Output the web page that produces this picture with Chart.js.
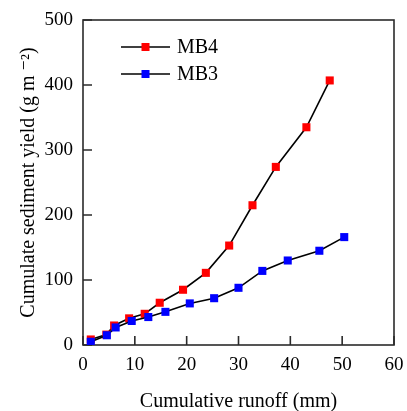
<!DOCTYPE html>
<html>
<head>
<meta charset="utf-8">
<script src="https://cdn.jsdelivr.net/npm/chart.js@4"></script>
<style>
  html, body { margin: 0; padding: 0; background: #fff; }
  #wrap { width: 407px; height: 411px; }
</style>
</head>
<body>
<div id="wrap"><canvas id="runoffChart"></canvas></div>
<script>
const mb4Runoff = [1.5, 4.5, 6, 8.9, 11.9, 14.8, 19.3, 23.7, 28.2, 32.7, 37.2, 43.1, 47.6];
const mb4Yield = [8.5, 16, 30, 41, 48, 65, 85, 111, 153, 215, 274, 335, 407];

const mb3Runoff = [1.5, 4.6, 6.3, 9.4, 12.6, 15.9, 20.6, 25.3, 30, 34.6, 39.5, 45.6, 50.4];
const mb3Yield = [5, 15, 27, 37, 43, 51, 64, 72, 88, 114, 130, 145, 166];

const xTicks = [0, 10, 20, 30, 40, 50, 60];
const yTicks = [0, 100, 200, 300, 400, 500];

const serif = "'Liberation Serif', 'DejaVu Serif', serif";

function toPoints(xs, ys) {
  return xs.map((x, i) => ({ x: x, y: ys[i] }));
}

// box round the plot and inward tick marks
const frame = {
  id: "frame",
  beforeDatasetsDraw(chart) {
    const { ctx, chartArea: a, scales } = chart;
    ctx.save();
    ctx.strokeStyle = "#2b2b2b";
    ctx.lineWidth = 1.6;
    ctx.strokeRect(a.left, a.top, a.right - a.left, a.bottom - a.top);
    ctx.beginPath();
    xTicks.forEach((v) => {
      const px = scales.x.getPixelForValue(v);
      ctx.moveTo(px, a.bottom);
      ctx.lineTo(px, a.bottom - 9);
    });
    yTicks.forEach((v) => {
      const py = scales.y.getPixelForValue(v);
      ctx.moveTo(a.left, py);
      ctx.lineTo(a.left + 9, py);
    });
    ctx.stroke();
    ctx.restore();
  },
};

// legend inside the plot: line with marker, then label
const insideLegend = {
  id: "insideLegend",
  afterDraw(chart) {
    const { ctx } = chart;
    ctx.save();
    chart.data.datasets.forEach((ds, i) => {
      const y = 47 + i * 27;
      ctx.strokeStyle = "#000";
      ctx.lineWidth = 1.6;
      ctx.beginPath();
      ctx.moveTo(121, y);
      ctx.lineTo(170, y);
      ctx.stroke();
      ctx.fillStyle = ds.pointBackgroundColor;
      ctx.fillRect(141.5, y - 4, 8, 8);
      ctx.fillStyle = "#000";
      ctx.font = "20px " + serif;
      ctx.textBaseline = "middle";
      ctx.fillText(ds.label, 177, y + 1);
    });
    ctx.restore();
  },
};

new Chart(document.getElementById("runoffChart"), {
  type: "scatter",
  data: {
    datasets: [
      {
        label: "MB4",
        data: toPoints(mb4Runoff, mb4Yield),
        showLine: true,
        borderColor: "#000",
        borderWidth: 1.6,
        pointStyle: "rect",
        pointRadius: 5.7,
        pointBackgroundColor: "#ff0000",
        pointBorderColor: "#ff0000",
        pointBorderWidth: 0,
        order: 2,
      },
      {
        label: "MB3",
        data: toPoints(mb3Runoff, mb3Yield),
        showLine: true,
        borderColor: "#000",
        borderWidth: 1.6,
        pointStyle: "rect",
        pointRadius: 5.7,
        pointBackgroundColor: "#0000ff",
        pointBorderColor: "#0000ff",
        pointBorderWidth: 0,
        order: 1,
      },
    ],
  },
  options: {
    animation: false,
    responsive: true,
    maintainAspectRatio: false,
    layout: {
      padding: { top: 20, right: 13, left: 0, bottom: 0 },
    },
    scales: {
      x: {
        type: "linear",
        min: 0,
        max: 60,
        afterBuildTicks: (s) => { s.ticks = xTicks.map((v) => ({ value: v })); },
        afterFit: (s) => {
          s.height = 66;
          s.paddingLeft = 0;
          s.paddingRight = 0;
        },
        grid: { display: false, drawTicks: false },
        border: { display: false },
        ticks: {
          color: "#000",
          padding: 9,
          maxRotation: 0,
          font: { family: serif, size: 19 },
        },
        title: {
          display: true,
          text: "Cumulative runoff (mm)",
          color: "#000",
          font: { family: serif, size: 20 },
          padding: { top: 0, bottom: -3 },
        },
      },
      y: {
        type: "linear",
        min: 0,
        max: 500,
        afterBuildTicks: (s) => { s.ticks = yTicks.map((v) => ({ value: v })); },
        afterFit: (s) => {
          s.width = 83;
          s.paddingTop = 0;
          s.paddingBottom = 0;
        },
        grid: { display: false, drawTicks: false },
        border: { display: false },
        ticks: {
          color: "#000",
          padding: 10,
          font: { family: serif, size: 19 },
        },
        title: {
          display: true,
          text: "Cumulate sediment yield (g m \u207B\u00B2)",
          color: "#000",
          font: { family: serif, size: 20 },
          padding: { top: 17, bottom: 0 },
        },
      },
    },
    plugins: {
      legend: { display: false },
      tooltip: { enabled: false },
    },
  },
  plugins: [frame, insideLegend],
});
</script>
</body>
</html>
